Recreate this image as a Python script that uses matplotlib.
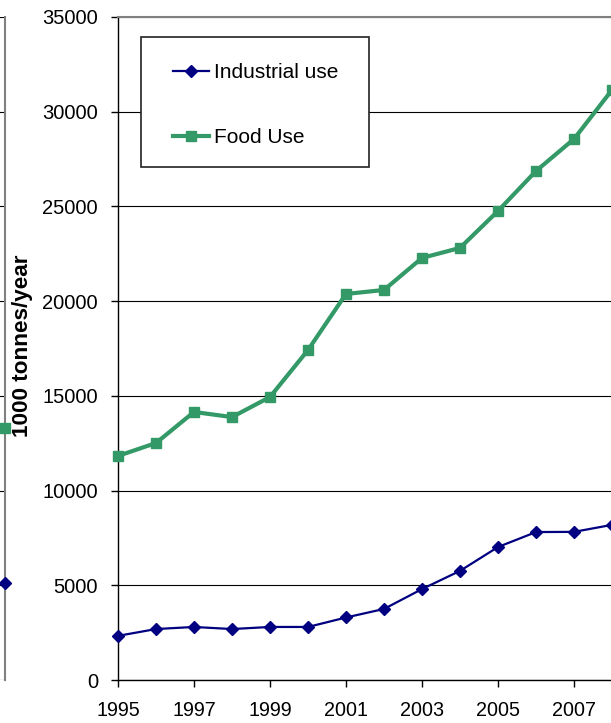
import matplotlib.pyplot as plt
from matplotlib.lines import Line2D
from matplotlib.patches import Rectangle

plt.rcParams['font.family'] = ['Liberation Sans', 'DejaVu Sans']

# Annual consumption, 1000 tonnes/year
years = [1995, 1996, 1997, 1998, 1999, 2000, 2001,
         2002, 2003, 2004, 2005, 2006, 2007, 2008]
industrial_use = [2330, 2690, 2800, 2690, 2800, 2800, 3300,
                  3750, 4800, 5760, 7020, 7810, 7820, 8190]
food_use = [11830, 12510, 14150, 13880, 14940, 17420, 20380,
            20590, 22280, 22810, 24760, 26870, 28560, 31150]

# Neighbouring panel: its final year's values
prev_year = [2008]
prev_industrial = [5120]
prev_food = [13300]

y_ticks = [0, 5000, 10000, 15000, 20000, 25000, 30000, 35000]
x_ticks = [1995, 1997, 1999, 2001, 2003, 2005, 2007]

NAVY = '#000080'
GREEN = '#339966'

W, H = 611, 723
fig = plt.figure(figsize=(W / 100, H / 100), dpi=100)


def px_box(x0, y0, x1, y1):
    return [x0 / W, 1 - y1 / H, (x1 - x0) / W, (y1 - y0) / H]


# ---- neighbouring panel (only its right edge is in view) ----
axl = fig.add_axes(px_box(-520, 17, 5, 680))
axl.set_xlim(1995, 2008)
axl.set_ylim(0, 35000)
axl.set_yticks(y_ticks)
axl.grid(axis='y', color='black', linewidth=0.8)
axl.set_axisbelow(True)
for s in ['left', 'top', 'bottom']:
    axl.spines[s].set_visible(False)
axl.spines['right'].set_color('#808080')
axl.spines['right'].set_linewidth(1.5)
axl.tick_params(left=False, bottom=False, labelleft=False, labelbottom=False)
axl.plot(prev_year, prev_food, color=GREEN, marker='s', markersize=7,
         linewidth=3, clip_on=False, zorder=5)
axl.plot(prev_year, prev_industrial, color=NAVY, marker='D', markersize=5.8,
         linewidth=1.6, clip_on=False, zorder=5)

# ---- main panel ----
ax = fig.add_axes(px_box(118, 17, 650, 680))
ax.set_xlim(1995, 2009)
ax.set_ylim(0, 35000)
ax.set_yticks(y_ticks)
ax.set_xticks(x_ticks)
ax.set_yticklabels([str(v) for v in y_ticks], fontsize=14.5)
ax.set_xticklabels([str(v) for v in x_ticks], fontsize=14.2)
ax.grid(axis='y', color='black', linewidth=0.8)
ax.set_axisbelow(True)
ax.spines['right'].set_visible(False)
ax.spines['top'].set_color('#808080')
ax.spines['top'].set_linewidth(1.5)
for s in ['left', 'bottom']:
    ax.spines[s].set_color('black')
    ax.spines[s].set_linewidth(1.0)
ax.tick_params(axis='y', direction='out', length=5, width=1, pad=9.4,
               colors='black')
ax.tick_params(axis='x', direction='out', length=5, width=1, pad=10,
               colors='black')
ax.set_ylabel('1000 tonnes/year', fontsize=16.2, fontweight='bold')
ax.yaxis.set_label_coords((33 - 118) / 532, (680 - 346) / 663)

ax.plot(years, food_use, color=GREEN, marker='s', markersize=7,
        linewidth=3, clip_on=False, zorder=4)
ax.plot(years, industrial_use, color=NAVY, marker='D', markersize=5.8,
        linewidth=1.6, clip_on=False, zorder=5)

# legend box and entries
fig.patches.append(Rectangle((141 / W, 1 - 167 / H), 228 / W, 130 / H,
                             transform=fig.transFigure, facecolor='white',
                             edgecolor='#222222', linewidth=1.2, zorder=10))
handles = [
    Line2D([], [], color=NAVY, marker='D', markersize=5.8, linewidth=1.6),
    Line2D([], [], color=GREEN, marker='s', markersize=7, linewidth=3),
]
leg = fig.legend(handles, ['Industrial use', 'Food Use'],
                 loc='upper left', bbox_to_anchor=(173 / W, 1 - 63 / H),
                 frameon=False, fontsize=15, handlelength=1.75,
                 handletextpad=0.2, labelspacing=2.2, borderpad=0,
                 borderaxespad=0, numpoints=1)
leg.set_zorder(11)

fig.savefig('out.png', dpi=100)
